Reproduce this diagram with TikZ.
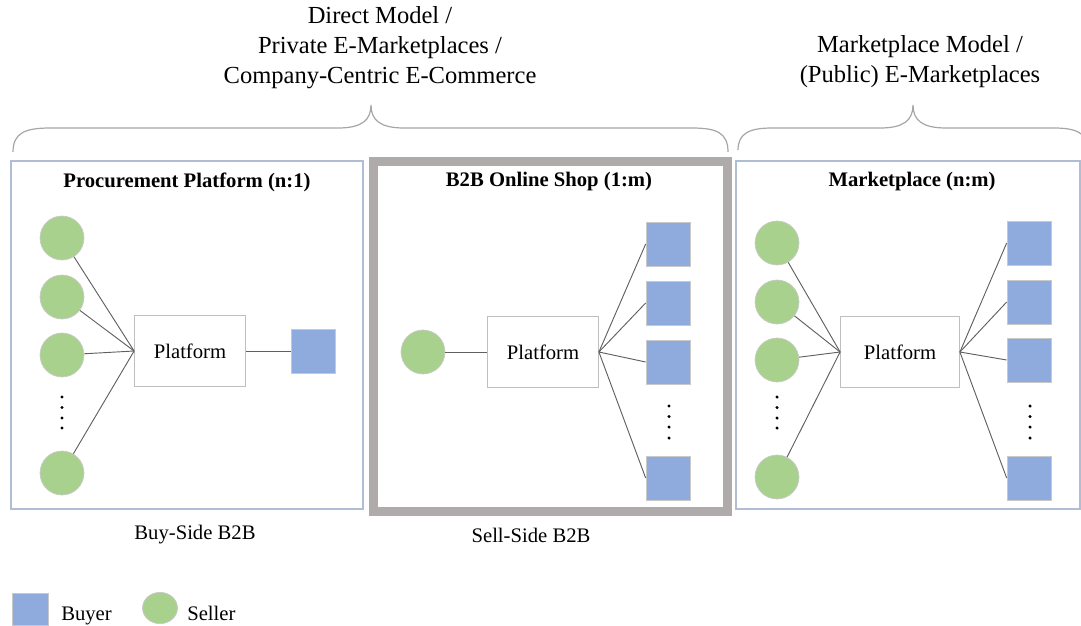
\documentclass[tikz,border=0pt]{standalone}
\usepackage{fontspec}
\setmainfont{Liberation Serif}
\usetikzlibrary{shapes.geometric}
\definecolor{sellergreen}{HTML}{A9D18E}
\definecolor{buyerblue}{HTML}{8FAADC}
\definecolor{rimgray}{HTML}{C9C9C9}
\definecolor{frameblue}{HTML}{B0BDD4}
\definecolor{shopgray}{HTML}{AFABAB}
\definecolor{hubgray}{HTML}{BFBFBF}
\definecolor{linkgray}{HTML}{606060}
\definecolor{bracegray}{HTML}{A6A6A6}
\begin{document}
\begin{tikzpicture}[x=0.75pt,y=-0.75pt,
  seller/.style={circle,fill=sellergreen,draw=rimgray,line width=0.5pt,minimum size=33pt,inner sep=0pt},
  buyer/.style={rectangle,fill=buyerblue,draw=rimgray,line width=0.5pt,minimum size=33pt,inner sep=0pt},
  hub/.style={rectangle,draw=hubgray,line width=0.6pt,fill=white,minimum width=83.25pt,minimum height=53.25pt,inner sep=0pt,font=\fontsize{15.5}{18}\selectfont},
  link/.style={draw=linkgray,line width=0.7pt},
  frame/.style={draw=frameblue,line width=1.1pt},
  shopframe/.style={draw=shopgray,line width=6.75pt},
  curly/.style={draw=bracegray,line width=0.9pt},
  heading/.style={align=center,font=\fontsize{18.4}{22.5}\selectfont},
  paneltitle/.style={font=\fontsize{15.5}{18}\selectfont\bfseries},
  caption/.style={font=\fontsize{15.5}{18}\selectfont},
  dotcol/.style={fill=black}]

\clip (0,0) rectangle (1081,625);

% headings and braces
\node[heading] (hdirect) at (380,48) {Direct Model /\\Private E-Marketplaces /\\Company-Centric E-Commerce};
\node[heading] (hmarket) at (920,62) {Marketplace Model /\\(Public) E-Marketplaces};

\draw[curly] (13,152) .. controls (13,133) and (25,128) .. (50,128) -- (338,128)
  .. controls (362,128) and (371,120) .. (371,105)
  .. controls (371,120) and (380,128) .. (404,128) -- (692,128)
  .. controls (717,128) and (728,133) .. (728,152);
\draw[curly] (738,150) .. controls (738,133) and (750,128) .. (772,128) -- (880,128)
  .. controls (904,128) and (913,120) .. (913,105)
  .. controls (913,120) and (922,128) .. (946,128) -- (1054,128)
  .. controls (1076,128) and (1088,133) .. (1088,150);

% panel frames
\draw[frame] (11,161) rectangle (363,509);
\draw[shopframe] (373.5,161.5) rectangle (727,511);
\draw[frame] (736,161) rectangle (1080,509);

\node[paneltitle] (t1) at (187,182) {Procurement Platform (n:1)};
\node[paneltitle] (t2) at (549,182) {B2B Online Shop (1:m)};
\node[paneltitle] (t3) at (912,182) {Marketplace (n:m)};

% procurement platform
\node[hub] (p1) at (190,351) {Platform};
\node[seller] (a1) at (62,238) {};
\node[seller] (a2) at (62,297) {};
\node[seller] (a3) at (62,355) {};
\node[seller] (a4) at (62,473) {};
\node[buyer] (b1) at (313,351) {};
\foreach \n in {a1,a2,a3,a4} \draw[link] (\n) -- (p1.west);
\draw[link] (p1.east) -- (b1.west);
\foreach \y in {397,407.5,418,428} \fill[dotcol] (62,\y) circle[radius=1.3pt];

% online shop
\node[hub] (p2) at (543,352) {Platform};
\node[seller] (c1) at (423,352) {};
\node[buyer] (d1) at (668,244) {};
\node[buyer] (d2) at (668,303) {};
\node[buyer] (d3) at (668,362) {};
\node[buyer] (d4) at (668,478) {};
\draw[link] (c1) -- (p2.west);
\foreach \n in {d1,d2,d3,d4} \draw[link] (p2.east) -- (\n.west);
\foreach \y in {406,416.5,427,438} \fill[dotcol] (669,\y) circle[radius=1.3pt];

% marketplace
\node[hub,minimum width=89.25pt] (p3) at (900,352) {Platform};
\node[seller] (e1) at (777,243) {};
\node[seller] (e2) at (777,302) {};
\node[seller] (e3) at (777,360) {};
\node[seller] (e4) at (777,477) {};
\node[buyer] (f1) at (1029,243) {};
\node[buyer] (f2) at (1029,302) {};
\node[buyer] (f3) at (1029,360) {};
\node[buyer] (f4) at (1029,478) {};
\foreach \n in {e1,e2,e3,e4} \draw[link] (\n) -- (p3.west);
\foreach \n in {f1,f2,f3,f4} \draw[link] (p3.east) -- (\n.west);
\foreach \y in {397,407.5,418,428} \fill[dotcol] (777,\y) circle[radius=1.3pt];
\foreach \y in {406,416.5,427,438} \fill[dotcol] (1030,\y) circle[radius=1.3pt];

% captions
\node[caption] (buyside) at (195,535) {Buy-Side B2B};
\node[caption] (sellside) at (531,535) {Sell-Side B2B};

% legend
\node[buyer,minimum width=27pt,minimum height=24pt] (legbuyer) at (30,609) {};
\node[caption,anchor=base west,inner sep=0pt] (legbuyertext) at (61,620) {Buyer};
\node[seller,ellipse,minimum width=26.25pt,minimum height=23.5pt] (legseller) at (160,608) {};
\node[caption,anchor=base west,inner sep=0pt] (legsellertext) at (187,620) {Seller};
\end{tikzpicture}
\end{document}
